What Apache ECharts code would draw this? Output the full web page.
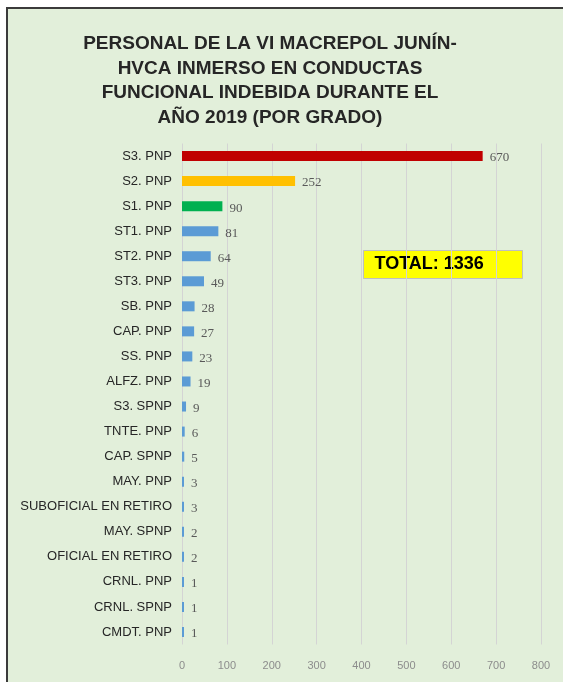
<!DOCTYPE html>
<html>
<head>
<meta charset="utf-8">
<script src="https://cdn.jsdelivr.net/npm/echarts@6/dist/echarts.min.js"></script>
<style>
  html, body { margin: 0; padding: 0; background: #ffffff; }
  #marco {
    position: absolute; left: 6px; top: 7px; width: 620px; height: 700px;
    background: #E2EFDA; border-left: 2px solid #3b3b3b; border-top: 2px solid #3b3b3b;
  }
  #barras { position: absolute; left: 0; top: 0; width: 563px; height: 682px; }
</style>
</head>
<body>
<div id="marco"></div>
<div id="barras"></div>
<script>
// personal por grado, de mayor a menor
var grados = ['S3. PNP', 'S2. PNP', 'S1. PNP', 'ST1. PNP', 'ST2. PNP', 'ST3. PNP', 'SB. PNP',
    'CAP. PNP', 'SS. PNP', 'ALFZ. PNP', 'S3. SPNP', 'TNTE. PNP', 'CAP. SPNP', 'MAY. PNP',
    'SUBOFICIAL EN RETIRO', 'MAY. SPNP', 'OFICIAL EN RETIRO', 'CRNL. PNP', 'CRNL. SPNP', 'CMDT. PNP'];
var cantidad = [670, 252, 90, 81, 64, 49, 28, 27, 23, 19, 9, 6, 5, 3, 3, 2, 2, 1, 1, 1];
var colores = ['#C00000', '#FFC000', '#00B050'];
var ticksX = [0, 100, 200, 300, 400, 500, 600, 700, 800];
var total = 1336;

document.addEventListener('DOMContentLoaded', function () {
    var chartDom = document.getElementById('barras');
    var myChart = echarts.init(chartDom);
    var option;

    option = {
        backgroundColor: 'transparent',
        animation: false,
        title: {
            text: 'PERSONAL DE LA VI MACREPOL JUNÍN-\nHVCA INMERSO EN CONDUCTAS\nFUNCIONAL INDEBIDA DURANTE EL\nAÑO 2019 (POR GRADO)',
            left: 265,
            top: 27,
            textAlign: 'center',
            textStyle: {
                fontFamily: 'Liberation Sans',
                fontWeight: 'bold',
                fontSize: 19,
                lineHeight: 24.5,
                color: '#262626'
            }
        },
        grid: { left: 182, right: 22, top: 143.5, bottom: 37.5 },
        xAxis: {
            type: 'value',
            min: ticksX[0],
            max: ticksX[ticksX.length - 1],
            interval: 100,
            axisLine: { show: false },
            axisTick: { show: false },
            splitLine: { lineStyle: { color: '#D4D4D4', width: 1 } },
            axisLabel: { color: '#8c8c8c', fontSize: 11, margin: 16, fontFamily: 'Liberation Sans' }
        },
        yAxis: {
            type: 'category',
            data: grados,
            inverse: true,
            axisLine: { show: false },
            axisTick: { show: false },
            axisLabel: { color: '#262626', fontSize: 13, margin: 10, fontFamily: 'Liberation Sans' }
        },
        series: [
            {
                type: 'bar',
                barWidth: 10,
                barMinHeight: 2,
                data: cantidad.map(function (v, i) {
                    return { value: v, itemStyle: { color: colores[i] || '#5B9BD5' } };
                }),
                label: {
                    show: true,
                    position: 'right',
                    distance: 7,
                    offset: [0, 2],
                    color: '#595959',
                    fontSize: 13,
                    fontFamily: 'Liberation Serif'
                }
            }
        ],
        graphic: [
            {
                type: 'group',
                left: 363,
                top: 250,
                children: [
                    {
                        type: 'rect',
                        shape: { x: 0, y: 0, width: 159, height: 28 },
                        style: { fill: '#FFFF00', stroke: '#BFBFBF', lineWidth: 1 }
                    },
                    {
                        type: 'text',
                        x: 11, y: 14,
                        style: {
                            text: 'TOTAL: ' + total,
                            font: 'bold 18px "Liberation Sans"',
                            fill: '#000000',
                            textVerticalAlign: 'middle'
                        }
                    }
                ]
            }
        ]
    };

    option && myChart.setOption(option);
});
</script>
</body>
</html>
